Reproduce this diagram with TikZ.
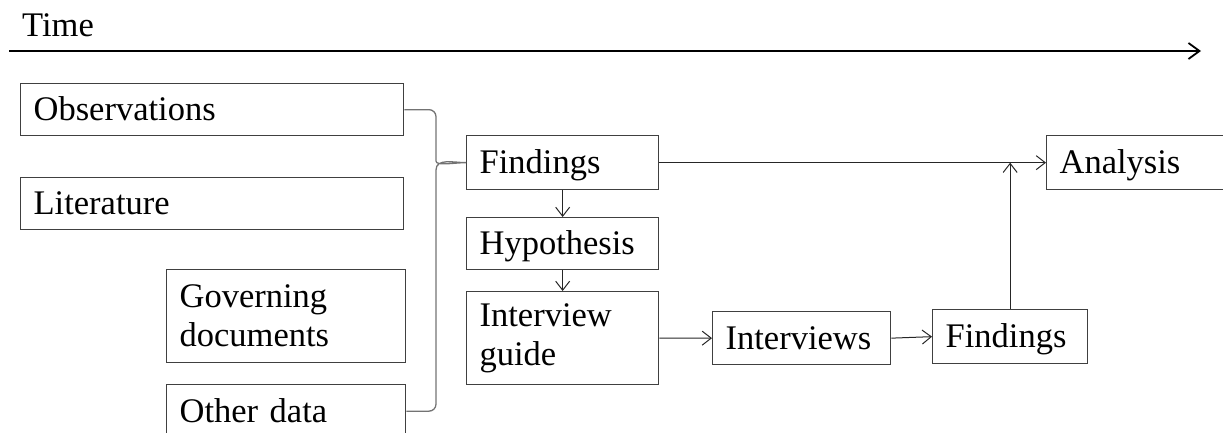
\documentclass[tikz,border=0pt]{standalone}
\usepackage{fontspec}
\setmainfont{Liberation Serif}
\usetikzlibrary{arrows.meta,positioning,calc}

\begin{document}
\begin{tikzpicture}[
 x=1pt,y=-1pt,
 every node/.style={font=\fontsize{34.5}{39}\selectfont},
 box/.style={draw=black!75,line width=1.3pt,text width=#1,inner xsep=13pt,inner ysep=0pt,
   align=left,minimum height=52pt,anchor=north west},
 oneline/.style={text height=26pt,text depth=4pt},
 arr/.style={-{Straight Barb[length=9pt,width=14pt]},line width=1pt,black!85},
 timearr/.style={-{Straight Barb[length=11pt,width=16pt,line width=1.8pt]},line width=1.8pt},
 brace/.style={line width=1.3pt,black!55}
]
 \useasboundingbox (0,0) rectangle (1223,432);
 \node[anchor=base west,inner sep=0pt] (time) at (22,36) {Time};
 \coordinate (tstart) at (9,51);
 \coordinate (tend) at (1201,51);
 \draw[timearr] (tstart) -- (tend);

 \node[box=357pt,oneline] (obs) at (20,83) {Observations};
 \node[box=357pt,oneline] (lit) at (20,177) {Literature};
 \node[box=213pt,minimum height=93pt] (gov) at (166,269) {Governing\\documents};
 \node[box=213pt,oneline,minimum height=53pt] (other) at (166,384) {Other data};

 \node[box=166pt,oneline,minimum height=54pt] (find1) at (466,135) {Findings};
 \node[box=166pt,oneline,below=26.7pt of find1] (hyp) {Hypothesis};
 \node[box=166pt,minimum height=93pt,below=20.7pt of hyp] (guide) {Interview\\guide};
 \node[box=152pt,oneline,minimum height=53pt] (intv) at (712,311) {Interviews};
 \node[box=129pt,oneline,minimum height=54pt] (find2) at (932,309) {Findings};
 \node[box=200pt,oneline,minimum height=54pt] (ana) at (1046,135) {Analysis};

 \coordinate (tip) at (436,162);
 \coordinate (merge) at (find2.north |- find1.east);
 \draw[brace] (obs.east) [rounded corners=7pt] -| ($(tip)+(0,-8)$) [sharp corners]
   to[out=-90,in=180] (find1.west) to[out=180,in=90] ($(tip)+(0,8)$)
   [rounded corners=7pt] |- (other.east);

 \draw[arr] (find1.east) -- (ana.west);
 \draw[arr] (find1.south) -- (hyp.north);
 \draw[arr] (hyp.south) -- (guide.north);
 \draw[arr] (guide.east) -- (intv.west);
 \draw[arr] (intv.east) -- (find2.west);
 \draw[arr] (find2.north) -- (merge);
\end{tikzpicture}
\end{document}
